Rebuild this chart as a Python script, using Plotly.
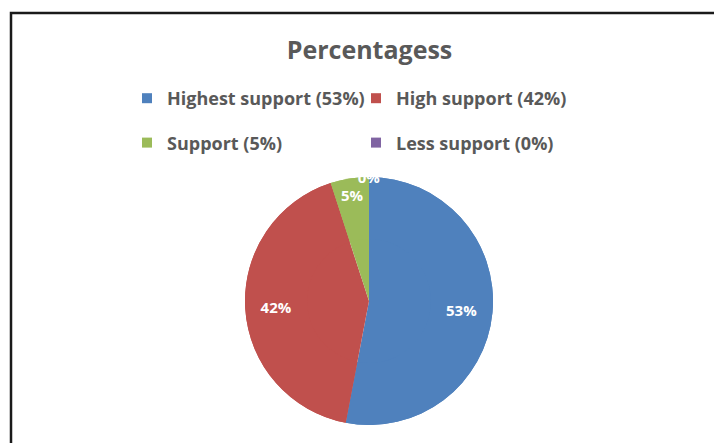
import plotly.graph_objects as go

categories = ["Highest support", "High support", "Support", "Less support"]
values = [53, 42, 5, 0]
colors = ["#4F81BD", "#C0504D", "#9BBB59", "#8064A2"]
legend_names = [f"{c} ({v}%)" for c, v in zip(categories, values)]
title_text = "Percentagess"

FONT = "Open Sans"
W, H = 714, 443
ML, MR = 20, 20
PW = W - ML - MR

def px_x(p):
    return (p - ML) / PW

def px_y(p):
    return 1 - p / H

pie_domain = dict(x=[px_x(245), px_x(493)], y=[px_y(425), px_y(177)])

fig = go.Figure()

# full pie (slices)
fig.add_trace(go.Pie(
    labels=legend_names, values=values, sort=False,
    direction="clockwise", rotation=0,
    marker=dict(colors=colors, line=dict(width=0)),
    textinfo="none", showlegend=False, domain=pie_domain,
    hoverinfo="label+percent",
))
# same data as a ring on top, used for placing the data labels further out
fig.add_trace(go.Pie(
    labels=legend_names, values=values, sort=False,
    direction="clockwise", rotation=0, hole=0.5,
    marker=dict(colors=colors, line=dict(width=0)),
    texttemplate="%{value}%",
    textposition="inside",
    insidetextorientation="horizontal",
    insidetextfont=dict(family=FONT, size=15, color="white", weight="bold"),
    showlegend=False, domain=pie_domain,
    hoverinfo="label+percent",
))

for i, (name, col) in enumerate(zip(legend_names, colors)):
    fig.add_trace(go.Scatter(
        x=[None], y=[None], mode="markers", name=name,
        marker=dict(symbol="square", size=10, color=col),
        legendgroup=f"g{i}", showlegend=True,
    ))

fig.add_shape(type="rect", xref="paper", yref="paper",
              x0=px_x(11), x1=px_x(760), y0=px_y(480), y1=px_y(13),
              line=dict(color="#1a1a1a", width=2.5), fillcolor="rgba(0,0,0,0)",
              layer="above")

fig.update_layout(
    width=W, height=H,
    margin=dict(l=ML, r=MR, t=0, b=0),
    paper_bgcolor="white", plot_bgcolor="white",
    title=dict(text=title_text, x=369.5 / W, xref="container", xanchor="center",
               y=1 - 50 / H, yref="container", yanchor="middle",
               font=dict(family=FONT, size=25, color="#595959", weight="bold")),
    legend=dict(orientation="h", x=px_x(127), xanchor="left", y=px_y(80), yanchor="top",
                font=dict(family=FONT, size=18, color="#595959", weight="bold"),
                entrywidth=184, entrywidthmode="pixels", tracegroupgap=18,
                itemsizing="trace", bgcolor="rgba(0,0,0,0)"),
    xaxis=dict(visible=False), yaxis=dict(visible=False),
    uniformtext=dict(minsize=15, mode="show"),
)

fig.write_html(
    "out.html",
    config={"displayModeBar": False},
    post_script="document.body.style.margin='0';document.body.style.overflow='hidden';",
)
